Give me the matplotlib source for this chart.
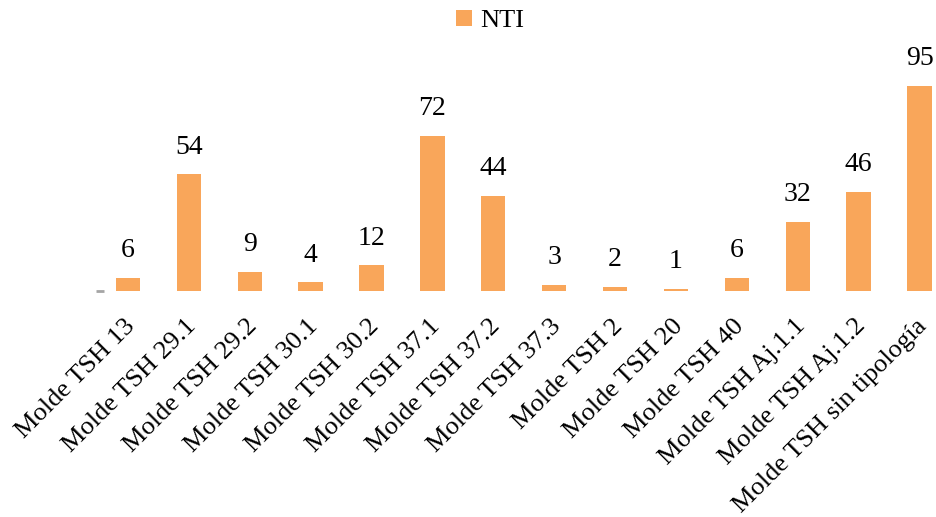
import matplotlib
matplotlib.use("Agg")
import matplotlib.pyplot as plt
import matplotlib.transforms as mtransforms
import numpy as np

categories = ["Molde TSH 13", "Molde TSH 29.1", "Molde TSH 29.2", "Molde TSH 30.1",
              "Molde TSH 30.2", "Molde TSH 37.1", "Molde TSH 37.2", "Molde TSH 37.3",
              "Molde TSH 2", "Molde TSH 20", "Molde TSH 40", "Molde TSH Aj.1.1",
              "Molde TSH Aj.1.2", "Molde TSH sin tipología"]
nti = [6, 54, 9, 4, 12, 72, 44, 3, 2, 1, 6, 32, 46, 95]
other_idx = [0]
other_vals = [0]

plt.rcParams['font.family'] = ['Liberation Serif', 'DejaVu Serif']

fig = plt.figure(figsize=(9.36, 5.17), dpi=100)
W, H = 936, 517
base_y = 291
top_y = 40
ax = fig.add_axes([83.5 / W, 1 - base_y / H, 1 - 83.5 / W, (base_y - top_y) / H])

x = np.arange(len(categories))
off = 0.23
bw = 0.40
orange = "#F9A65A"
bars = ax.bar(x + off, nti, width=bw, color=orange, label="NTI", zorder=2)
for xi, v in zip(x, nti):
    ax.annotate(str(v), (xi + off, v), xytext=(0, 10.5), textcoords="offset points",
                ha="center", va="bottom", fontsize=20, color="black")

ax.scatter(np.array(other_idx) - off, other_vals, marker="_", s=40, color="#A5A5A5",
           linewidths=2, zorder=3, clip_on=False)

ax.set_xlim(-0.5, len(categories) - 0.5)
ax.set_ylim(0, (base_y - top_y) / (205 / 95))
ax.set_yticks([])
ax.set_xticks(x)
ax.set_xticklabels(categories, rotation=45, ha="right", va="top",
                   rotation_mode="anchor", fontsize=19)
ax.tick_params(axis="x", length=0, pad=8)
shift = mtransforms.ScaledTranslation(10 / 100, -13 / 100, fig.dpi_scale_trans)
for lab in ax.get_xticklabels():
    lab.set_transform(lab.get_transform() + shift)
for s in ax.spines.values():
    s.set_visible(False)

handles, labels = ax.get_legend_handles_labels()
fig.legend(handles[:1], labels[:1], loc="center", bbox_to_anchor=(490 / W, 1 - 21 / H),
           frameon=False, fontsize=19, handlelength=0.6, handleheight=0.6,
           handletextpad=0.3)

fig.savefig("out.png", dpi=100)
